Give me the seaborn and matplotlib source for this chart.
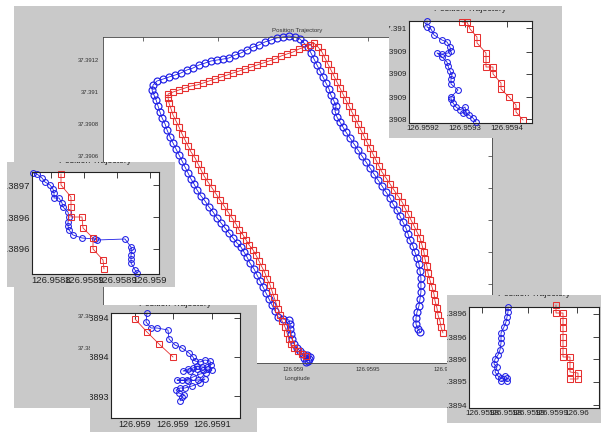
import matplotlib
matplotlib.use("Agg")
import matplotlib.pyplot as plt
import pandas as pd
import seaborn as sns
from matplotlib.patches import Rectangle
from matplotlib.transforms import Bbox, TransformedBbox

# ------------------------------------------------------------------ data
# main plot: longitude / latitude of the two trajectories
main_blue_lon = [
    126.959087, 126.959107, 126.959093, 126.959113, 126.959073, 126.959100, 126.959067, 126.959047, 126.959027, 126.959007,
    126.958993, 126.958987, 126.958980, 126.958980, 126.958973, 126.958933, 126.958900, 126.958880, 126.958860, 126.958840,
    126.958820, 126.958800, 126.958780, 126.958760, 126.958740, 126.958713, 126.958693, 126.958673, 126.958653, 126.958627,
    126.958600, 126.958573, 126.958547, 126.958520, 126.958493, 126.958467, 126.958440, 126.958413, 126.958387, 126.958360,
    126.958340, 126.958320, 126.958300, 126.958280, 126.958260, 126.958240, 126.958220, 126.958200, 126.958180, 126.958160,
    126.958147, 126.958127, 126.958113, 126.958100, 126.958087, 126.958073, 126.958060, 126.958067, 126.958093, 126.958133,
    126.958173, 126.958213, 126.958253, 126.958293, 126.958333, 126.958373, 126.958413, 126.958453, 126.958493, 126.958533,
    126.958573, 126.958613, 126.958653, 126.958693, 126.958733, 126.958773, 126.958813, 126.958853, 126.958893, 126.958933,
    126.958973, 126.959013, 126.959047, 126.959073, 126.959100, 126.959120, 126.959140, 126.959160, 126.959180, 126.959200,
    126.959220, 126.959240, 126.959253, 126.959273, 126.959287, 126.959280, 126.959293, 126.959313, 126.959333, 126.959353,
    126.959380, 126.959407, 126.959433, 126.959460, 126.959487, 126.959513, 126.959540, 126.959567, 126.959593, 126.959620,
    126.959647, 126.959667, 126.959693, 126.959713, 126.959733, 126.959753, 126.959767, 126.959780, 126.959800, 126.959813,
    126.959827, 126.959840, 126.959847, 126.959853, 126.959853, 126.959853, 126.959847, 126.959840, 126.959827, 126.959820,
    126.959820, 126.959833, 126.959847]
main_blue_lat = [
    37.389312, 37.389331, 37.389356, 37.389344, 37.389337, 37.389319, 37.389362, 37.389381, 37.389400, 37.389425,
    37.389456, 37.389488, 37.389519, 37.389550, 37.389575, 37.389581, 37.389594, 37.389631, 37.389669, 37.389706,
    37.389744, 37.389781, 37.389819, 37.389856, 37.389894, 37.389931, 37.389969, 37.390000, 37.390031, 37.390056,
    37.390088, 37.390119, 37.390150, 37.390181, 37.390213, 37.390250, 37.390281, 37.390319, 37.390350, 37.390388,
    37.390425, 37.390456, 37.390494, 37.390531, 37.390569, 37.390606, 37.390644, 37.390681, 37.390719, 37.390763,
    37.390800, 37.390838, 37.390875, 37.390913, 37.390950, 37.390981, 37.391013, 37.391044, 37.391069, 37.391081,
    37.391094, 37.391106, 37.391119, 37.391138, 37.391150, 37.391169, 37.391181, 37.391194, 37.391200, 37.391206,
    37.391213, 37.391231, 37.391244, 37.391263, 37.391281, 37.391294, 37.391313, 37.391325, 37.391338, 37.391344,
    37.391350, 37.391344, 37.391331, 37.391306, 37.391281, 37.391244, 37.391206, 37.391169, 37.391131, 37.391094,
    37.391056, 37.391019, 37.390981, 37.390944, 37.390913, 37.390881, 37.390844, 37.390813, 37.390781, 37.390750,
    37.390713, 37.390675, 37.390638, 37.390600, 37.390563, 37.390525, 37.390488, 37.390450, 37.390413, 37.390375,
    37.390338, 37.390300, 37.390263, 37.390225, 37.390188, 37.390150, 37.390113, 37.390075, 37.390038, 37.390000,
    37.389963, 37.389925, 37.389881, 37.389838, 37.389794, 37.389750, 37.389706, 37.389663, 37.389625, 37.389588,
    37.389550, 37.389519, 37.389500]
main_red_lon = [
    126.959087, 126.959060, 126.959033, 126.959007, 126.958987, 126.958973, 126.958960, 126.958947, 126.958927, 126.958913,
    126.958900, 126.958887, 126.958873, 126.958860, 126.958847, 126.958827, 126.958813, 126.958793, 126.958773, 126.958753,
    126.958733, 126.958707, 126.958687, 126.958667, 126.958640, 126.958620, 126.958593, 126.958567, 126.958540, 126.958513,
    126.958487, 126.958460, 126.958433, 126.958407, 126.958387, 126.958367, 126.958347, 126.958320, 126.958300, 126.958280,
    126.958260, 126.958240, 126.958220, 126.958200, 126.958187, 126.958173, 126.958167, 126.958167, 126.958200, 126.958240,
    126.958280, 126.958320, 126.958360, 126.958400, 126.958440, 126.958480, 126.958520, 126.958560, 126.958600, 126.958640,
    126.958680, 126.958720, 126.958760, 126.958800, 126.958840, 126.958880, 126.958920, 126.958960, 126.959000, 126.959040,
    126.959080, 126.959113, 126.959140, 126.959167, 126.959193, 126.959213, 126.959233, 126.959253, 126.959273, 126.959293,
    126.959313, 126.959333, 126.959353, 126.959373, 126.959393, 126.959413, 126.959433, 126.959453, 126.959473, 126.959493,
    126.959513, 126.959533, 126.959553, 126.959573, 126.959593, 126.959620, 126.959647, 126.959673, 126.959700, 126.959727,
    126.959747, 126.959767, 126.959787, 126.959807, 126.959827, 126.959847, 126.959860, 126.959873, 126.959880, 126.959893,
    126.959900, 126.959913, 126.959927, 126.959940, 126.959947, 126.959960, 126.959967, 126.959980, 126.959987, 126.960000]
main_red_lat = [
    37.389350, 37.389362, 37.389381, 37.389400, 37.389425, 37.389456, 37.389494, 37.389531, 37.389569, 37.389606,
    37.389644, 37.389681, 37.389719, 37.389756, 37.389794, 37.389831, 37.389869, 37.389906, 37.389944, 37.389981,
    37.390013, 37.390044, 37.390075, 37.390106, 37.390138, 37.390175, 37.390213, 37.390250, 37.390288, 37.390325,
    37.390363, 37.390400, 37.390438, 37.390475, 37.390513, 37.390550, 37.390588, 37.390625, 37.390663, 37.390700,
    37.390738, 37.390781, 37.390819, 37.390856, 37.390894, 37.390931, 37.390963, 37.390988, 37.391000, 37.391013,
    37.391025, 37.391038, 37.391044, 37.391056, 37.391069, 37.391081, 37.391094, 37.391106, 37.391119, 37.391131,
    37.391144, 37.391156, 37.391169, 37.391181, 37.391194, 37.391206, 37.391225, 37.391238, 37.391250, 37.391269,
    37.391281, 37.391294, 37.391306, 37.391281, 37.391250, 37.391213, 37.391175, 37.391138, 37.391100, 37.391063,
    37.391025, 37.390988, 37.390950, 37.390913, 37.390875, 37.390838, 37.390800, 37.390763, 37.390725, 37.390688,
    37.390650, 37.390613, 37.390575, 37.390538, 37.390500, 37.390463, 37.390425, 37.390388, 37.390350, 37.390313,
    37.390275, 37.390238, 37.390200, 37.390163, 37.390125, 37.390088, 37.390044, 37.390000, 37.389956, 37.389913,
    37.389869, 37.389825, 37.389781, 37.389738, 37.389694, 37.389650, 37.389606, 37.389569, 37.389531, 37.389494]
main_xticks = [126.958, 126.9585, 126.959, 126.9595, 126.96]
main_xticklabels = ["126.958", "126.9585", "126.959", "126.9595", "126.96"]
main_yticks = [37.3894, 37.3896, 37.3898, 37.39, 37.3902, 37.3904, 37.3906, 37.3908, 37.391, 37.3912]
main_yticklabels = ["37.3894", "37.3896", "37.3898", "37.39", "37.3902", "37.3904",
                    "37.3906", "37.3908", "37.391", "37.3912"]

# inset: left (middle of the west leg)
tl_blue_lon = [126.958822, 126.958826, 126.958831, 126.958834, 126.958839, 126.958842, 126.958843, 126.958843,
               126.958848, 126.958851, 126.958852, 126.958857, 126.958858, 126.958857, 126.958857, 126.958858,
               126.958862, 126.958871, 126.958884, 126.958886, 126.958914, 126.958920, 126.958921, 126.958920,
               126.958920, 126.958920, 126.958924, 126.958926]
tl_blue_lat = [37.389712, 37.389711, 37.389707, 37.389703, 37.389700, 37.389696, 37.389692, 37.389687,
               37.389687, 37.389682, 37.389678, 37.389673, 37.389668, 37.389663, 37.389659, 37.389655,
               37.389650, 37.389647, 37.389646, 37.389645, 37.389646, 37.389638, 37.389635, 37.389630,
               37.389626, 37.389622, 37.389615, 37.389612]
tl_red_lon = [126.958850, 126.958850, 126.958860, 126.958860, 126.958860, 126.958871, 126.958872,
              126.958882, 126.958882, 126.958892, 126.958893]
tl_red_lat = [37.389711, 37.389700, 37.389688, 37.389678, 37.389668, 37.389668, 37.389657,
              37.389647, 37.389636, 37.389625, 37.389616]
tl_xticks = [126.958840, 126.958873, 126.958906, 126.958939]
tl_xticklabels = ["126.9588", "126.9589", "126.9589", "126.959"]
tl_yticks = [37.389636, 37.389668, 37.389700]
tl_yticklabels = ["37.3896", "37.3896", "37.3897"]

# inset: top right (east leg)
tr_blue_lon = [126.959204, 126.959204, 126.959208, 126.959211, 126.959219, 126.959224, 126.959227, 126.959228,
               126.959225, 126.959219, 126.959214, 126.959219, 126.959224, 126.959225, 126.959227, 126.959229,
               126.959228, 126.959228, 126.959235, 126.959228, 126.959228, 126.959230, 126.959233, 126.959237,
               126.959242, 126.959243, 126.959240, 126.959246, 126.959250, 126.959253]
tr_blue_lat = [37.391007, 37.391001, 37.390999, 37.390993, 37.390988, 37.390986, 37.390981, 37.390977,
               37.390975, 37.390974, 37.390975, 37.390971, 37.390966, 37.390962, 37.390957, 37.390953,
               37.390949, 37.390944, 37.390938, 37.390931, 37.390929, 37.390925, 37.390921, 37.390918,
               37.390921, 37.390916, 37.390915, 37.390913, 37.390910, 37.390906]
tr_red_lon = [126.959239, 126.959244, 126.959247, 126.959254, 126.959254, 126.959263, 126.959263, 126.959263,
              126.959270, 126.959270, 126.959278, 126.959278, 126.959286, 126.959293, 126.959293, 126.959300]
tr_red_lat = [37.391006, 37.391006, 37.390999, 37.390991, 37.390985, 37.390975, 37.390969, 37.390961,
              37.390961, 37.390954, 37.390945, 37.390939, 37.390931, 37.390923, 37.390916, 37.390908]
tr_xticks = [126.959200, 126.959242, 126.959284]
tr_xticklabels = ["126.9592", "126.9593", "126.9594"]
tr_yticks = [37.390909, 37.390931, 37.390954, 37.390976, 37.391000]
tr_yticklabels = ["37.3908", "37.3909", "37.3909", "37.3909", "37.391"]

# inset: bottom left (start point)
bl_blue_lon = [126.959035, 126.959034, 126.959039, 126.959045, 126.959056, 126.959057, 126.959063, 126.959070,
               126.959077, 126.959081, 126.959083, 126.959088, 126.959093, 126.959098, 126.959099, 126.959095,
               126.959090, 126.959085, 126.959081, 126.959076, 126.959071, 126.959078, 126.959085, 126.959091,
               126.959096, 126.959100, 126.959094, 126.959088, 126.959081, 126.959075, 126.959070, 126.959065,
               126.959076, 126.959086, 126.959093, 126.959088, 126.959080, 126.959073, 126.959068, 126.959064,
               126.959067, 126.959072, 126.959070, 126.959068]
bl_blue_lat = [37.389405, 37.389396, 37.389390, 37.389390, 37.389388, 37.389379, 37.389373, 37.389370,
               37.389365, 37.389361, 37.389357, 37.389356, 37.389358, 37.389357, 37.389353, 37.389351,
               37.389351, 37.389352, 37.389350, 37.389349, 37.389347, 37.389347, 37.389349, 37.389348,
               37.389349, 37.389348, 37.389345, 37.389344, 37.389341, 37.389338, 37.389338, 37.389338,
               37.389337, 37.389338, 37.389339, 37.389335, 37.389332, 37.389330, 37.389330, 37.389328,
               37.389325, 37.389323, 37.389321, 37.389317]
bl_red_lon = [126.959023, 126.959035, 126.959047, 126.959061]
bl_red_lat = [37.389399, 37.389386, 37.389374, 37.389361]
bl_xticks = [126.959023, 126.959061, 126.959100]
bl_xticklabels = ["126.959", "126.959", "126.9591"]
bl_yticks = [37.389322, 37.389361, 37.389400]
bl_yticklabels = ["37.3893", "37.3894", "37.3894"]

# inset: bottom right (end points)
br_blue_lon = [126.959878, 126.959878, 126.959877, 126.959876, 126.959874, 126.959871, 126.959871, 126.959871,
               126.959870, 126.959868, 126.959865, 126.959864, 126.959867, 126.959865, 126.959868, 126.959871,
               126.959875, 126.959877, 126.959877, 126.959871]
br_blue_lat = [37.389607, 37.389602, 37.389597, 37.389592, 37.389587, 37.389581, 37.389576, 37.389571,
               37.389564, 37.389559, 37.389555, 37.389550, 37.389547, 37.389542, 37.389538, 37.389536,
               37.389538, 37.389536, 37.389533, 37.389533]
br_red_lon = [126.959926, 126.959926, 126.959933, 126.959933, 126.959933, 126.959933, 126.959933, 126.959933,
              126.959933, 126.959940, 126.959940, 126.959940, 126.959948, 126.959948, 126.959940]
br_red_lat = [37.389609, 37.389601, 37.389601, 37.389593, 37.389586, 37.389577, 37.389571, 37.389563,
              37.389557, 37.389557, 37.389549, 37.389542, 37.389541, 37.389535, 37.389535]
br_xticks = [126.959852, 126.959875, 126.959898, 126.959921, 126.959947]
br_xticklabels = ["126.9598", "126.9598", "126.9599", "126.9599", "126.96"]
br_yticks = [37.389509, 37.389532, 37.389555, 37.389577, 37.389600]
br_yticklabels = ["37.3894", "37.3895", "37.3896", "37.3896", "37.3896"]

title_text = "Position Trajectory"
xlabel_text = "Longitude"
ylabel_text = "Latitude"

# ------------------------------------------------------------------ style
sns.set_style("white")
plt.rcParams["font.family"] = ["Liberation Sans", "DejaVu Sans"]
MAIN_FS = 4.2
MAIN_TITLE_FS = 4.4
INSET_TITLE_FS = 6.3

GRAY = "#c9c9c9"
BLUE = "#1f1fe6"
RED = "#e63030"

W, H = 603, 432
fig = plt.figure(figsize=(W / 100, H / 100), dpi=100)
fig.patch.set_facecolor("white")


def fig_rect(x0, y0, x1, y1):
    return [x0 / W, 1 - y1 / H, (x1 - x0) / W, (y1 - y0) / H]


def track(ax, lon, lat, color, marker, ms, mew=0.75):
    df = pd.DataFrame({"lon": lon, "lat": lat})
    sns.lineplot(data=df, x="lon", y="lat", sort=False, estimator=None, errorbar=None, ax=ax,
                 color=color, linewidth=0.6, marker=marker, markersize=ms,
                 markerfacecolor="none", markeredgecolor=color, markeredgewidth=mew,
                 clip_on=False, legend=False)


# main figure panel
fig.add_artist(Rectangle((14 / W, 1 - 408 / H), 548 / W, 402 / H, transform=fig.transFigure,
                         facecolor=GRAY, edgecolor="none", zorder=-1))

ax = fig.add_axes(fig_rect(103, 37, 492, 363))
ax.set_zorder(0)
ax.set_facecolor("white")
track(ax, main_blue_lon, main_blue_lat, BLUE, "o", 5.0, 0.85)
track(ax, main_red_lon, main_red_lat, RED, "s", 4.4, 0.8)
ax.set_xlim(126.957733, 126.960327)
ax.set_ylim(37.389306, 37.391344)
ax.set_xticks(main_xticks)
ax.set_xticklabels(main_xticklabels)
ax.set_yticks(main_yticks)
ax.set_yticklabels(main_yticklabels)
ax.tick_params(direction="in", length=3, width=0.5, top=True, right=True,
               labelsize=MAIN_FS, pad=3, colors="#333333")
for s in ax.spines.values():
    s.set_linewidth(0.6)
    s.set_color("#444444")
ax.set_title(title_text, fontsize=MAIN_TITLE_FS, pad=3.5, color="#333333")
ax.set_xlabel(xlabel_text, fontsize=MAIN_FS, color="#333333")
ax.xaxis.set_label_coords(0.5, -0.04)
ax.set_ylabel(ylabel_text, fontsize=MAIN_FS, color="#333333")


def make_inset(panel, box, blue, red, xlim, ylim, xt, xtl, yt, ytl, fs):
    px0, py0, px1, py1 = panel
    fig.add_artist(Rectangle((px0 / W, 1 - py1 / H), (px1 - px0) / W, (py1 - py0) / H,
                             transform=fig.transFigure, facecolor=GRAY, edgecolor="none", zorder=1))
    clip = TransformedBbox(Bbox.from_extents(px0 / W, 1 - py1 / H, px1 / W, 1 - py0 / H), fig.transFigure)
    a = fig.add_axes(fig_rect(*box))
    a.set_zorder(2)
    a.set_facecolor("white")
    track(a, blue[0], blue[1], BLUE, "o", 4.2)
    track(a, red[0], red[1], RED, "s", 4.0)
    a.set_xlim(*xlim)
    a.set_ylim(*ylim)
    a.set_xticks(xt)
    a.set_xticklabels(xtl)
    a.set_yticks(yt)
    a.set_yticklabels(ytl)
    a.set_xlabel("")
    a.set_ylabel("")
    a.tick_params(direction="in", length=4, width=0.6, top=True, right=True,
                  labelsize=fs, pad=1.5, colors="#222222")
    for s in a.spines.values():
        s.set_linewidth(0.8)
        s.set_color("#222222")
    for lab in a.get_xticklabels() + a.get_yticklabels():
        lab.set_clip_on(True)
        lab.set_clip_box(clip)
    cx = (box[0] + box[2]) / 2
    t = fig.text(cx / W, 1 - (py0 - 1.5) / H, title_text, ha="center", va="center",
                 fontsize=INSET_TITLE_FS, color="#222222", zorder=3)
    t.set_clip_on(True)
    t.set_clip_box(clip)
    return a


make_inset((7, 162, 175, 287), (32, 172, 159, 274), (tl_blue_lon, tl_blue_lat), (tl_red_lon, tl_red_lat),
           (126.958821, 126.958948), (37.389611, 37.389713),
           tl_xticks, tl_xticklabels, tl_yticks, tl_yticklabels, 6.8)
make_inset((389, 10, 561, 138), (409, 21, 532, 123), (tr_blue_lon, tr_blue_lat), (tr_red_lon, tr_red_lat),
           (126.959186, 126.959309), (37.390905, 37.391007),
           tr_xticks, tr_xticklabels, tr_yticks, tr_yticklabels, 5.7)
make_inset((90, 305, 257, 432), (111, 313, 240, 418), (bl_blue_lon, bl_blue_lat), (bl_red_lon, bl_red_lat),
           (126.958999, 126.959128), (37.389300, 37.389405),
           bl_xticks, bl_xticklabels, bl_yticks, bl_yticklabels, 6.5)
make_inset((447, 295, 601, 423), (469, 307, 599, 408), (br_blue_lon, br_blue_lat), (br_red_lon, br_red_lat),
           (126.959839, 126.959969), (37.389506, 37.389607),
           br_xticks, br_xticklabels, br_yticks, br_yticklabels, 5.9)

fig.savefig("out.png", dpi=100)
